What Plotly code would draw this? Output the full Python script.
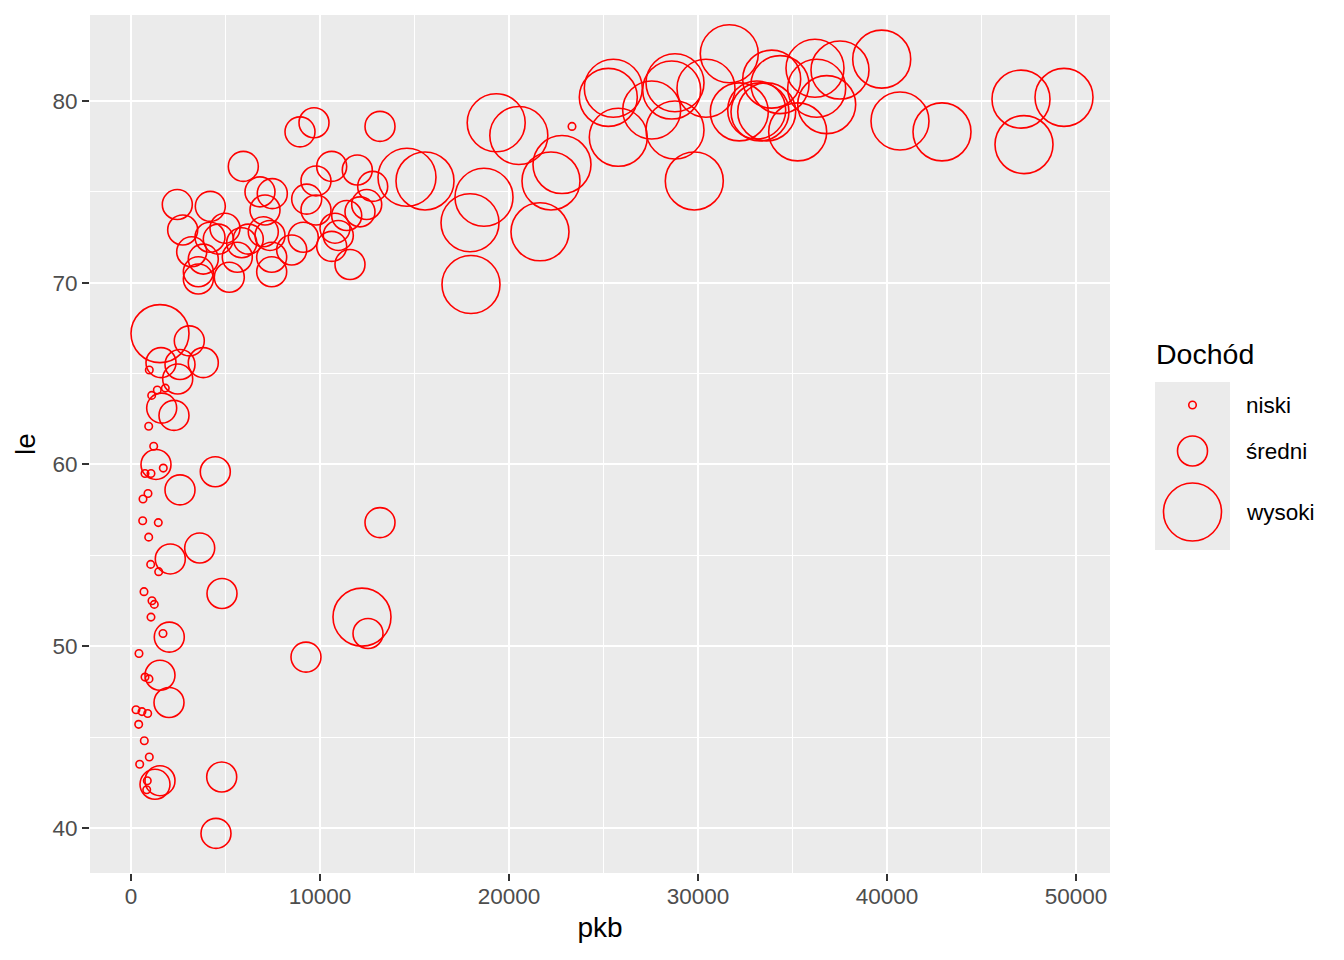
import plotly.graph_objects as go

# ---------------- data ----------------
pkb_niski = [968, 1095, 1392, 1815, 937, 1201, 741, 1058, 1709, 899, 635, 619, 1444, 937,
             1042, 1466, 688, 1111, 1233, 1058, 1693, 423, 741, 952, 265, 582, 884, 407,
             704, 968, 460, 862, 831, 23333]
le_niski = [65.2, 63.8, 64.1, 64.2, 62.1, 61.0, 59.5, 59.5, 59.8, 58.4, 58.1, 56.9, 56.8, 56.0,
            54.5, 54.1, 53.0, 52.5, 52.3, 51.6, 50.7, 49.6, 48.3, 48.2, 46.5, 46.4, 46.3, 45.7,
            44.8, 43.9, 43.5, 42.6, 42.1, 78.6]

pkb_sredni = [3085, 1587, 2593, 3825, 2471, 1624, 2275, 1323, 4460, 2593, 3635, 2079, 4815,
              2026, 1534, 2011, 1534, 1270, 4799, 4497, 9259, 13175, 12540, 8942, 9683, 13175,
              2450, 4196, 5942, 2735, 6825, 7476, 7090, 3212, 3563, 3563, 3825, 4180, 4974,
              4619, 5201, 5624, 5857, 6206, 7000, 7354, 7444, 7444, 8503, 9116, 9296, 9788,
              9788, 10619, 11974, 12788, 12471, 12116, 11413, 10794, 10619, 10968, 11587]
le_sredni = [66.8, 65.6, 65.5, 65.6, 64.7, 63.1, 62.7, 60.0, 59.6, 58.6, 55.4, 54.8, 52.9,
             50.5, 48.4, 46.9, 42.6, 42.4, 42.8, 39.7, 49.4, 56.8, 50.7, 78.3, 78.8, 78.6,
             74.3, 74.2, 76.4, 72.9, 75.0, 74.9, 74.0, 71.7, 70.6, 70.2, 71.3, 72.5, 73.0,
             72.4, 70.3, 71.4, 72.2, 72.4, 72.8, 72.6, 71.4, 70.6, 71.8, 72.5, 74.6, 75.6,
             74.0, 76.4, 76.2, 75.3, 74.3, 73.9, 73.7, 73.0, 72.0, 72.6, 71.0]

pkb_wysoki = [1534, 12222, 14603, 15556, 19323, 20519, 17937, 18677, 17989, 21640, 22222,
              22804, 25254, 25519, 25783, 27550, 28783, 28608, 28783, 30423, 31656, 29804,
              32185, 33106, 33280, 33635, 33899, 34339, 35275, 36190, 36280, 36809, 37513,
              39720, 40688, 42910, 47090, 47249, 49365]
le_wysoki = [67.2, 51.6, 75.8, 75.6, 78.8, 78.1, 73.3, 74.7, 69.9, 72.8, 75.6,
             76.5, 80.2, 80.7, 78.0, 79.5, 81.0, 80.6, 78.4, 80.7, 82.6, 75.6,
             79.4, 79.5, 79.4, 79.4, 81.2, 80.9, 78.3, 81.8, 80.7, 79.8, 81.7,
             82.3, 78.9, 78.3, 80.1, 77.6, 80.2]

groups = ["niski", "średni", "wysoki"]
x_ticks = [0, 10000, 20000, 30000, 40000, 50000]
y_ticks = [40, 50, 60, 70, 80]

# ---------------- styling ----------------
OFF = 8  # page body margin
W, H = 1344 - 2 * OFF, 960 - 2 * OFF
ML, MT = 90 - OFF, 15 - OFF
MR = W - ML - 1020
MB = H - MT - 858
PANEL = "#EBEBEB"
RED = "#FF0000"
FONT = "Liberation Sans"
sizes = {"niski": 7.5, "średni": 30, "wysoki": 58}
series = {"niski": (pkb_niski, le_niski),
          "średni": (pkb_sredni, le_sredni),
          "wysoki": (pkb_wysoki, le_wysoki)}

fig = go.Figure()
for g in groups:
    xs, ys = series[g]
    fig.add_trace(go.Scatter(
        x=xs, y=ys, mode="markers", name=g, showlegend=False,
        marker=dict(symbol="circle-open", size=sizes[g], color=RED,
                    line=dict(width=1.6, color=RED)),
        hoverinfo="x+y+name"))

axis_common = dict(
    showgrid=True, gridcolor="white", gridwidth=2.2,
    zeroline=False, showline=False,
    ticks="outside", ticklen=7, tickwidth=1.5, tickcolor="#333333",
    tickfont=dict(family=FONT, size=22.5, color="#4D4D4D"),
)

fig.update_xaxes(
    range=[-2169, 51799], tickvals=x_ticks, ticktext=[str(v) for v in x_ticks],
    minor=dict(tickvals=[5000, 15000, 25000, 35000, 45000], showgrid=True,
               gridcolor="white", gridwidth=1.1, ticks=""),
    ticklabelstandoff=-4,
    title=dict(text="pkb", font=dict(family=FONT, size=28, color="black"), standoff=9),
    **axis_common)
fig.update_yaxes(
    range=[37.52, 84.73], tickvals=y_ticks, ticktext=[str(v) for v in y_ticks],
    minor=dict(tickvals=[45, 55, 65, 75], showgrid=True,
               gridcolor="white", gridwidth=1.1, ticks=""),
    title=dict(text="le", font=dict(family=FONT, size=28, color="black"), standoff=8),
    **axis_common)

def px_x(px):
    return (px - OFF - ML) / (W - ML - MR)

def px_y(py):
    return (H - MB - (py - OFF)) / (H - MT - MB)

shapes = []
annotations = []
# legend key background
shapes.append(dict(type="rect", xref="paper", yref="paper",
                   x0=px_x(1155), x1=px_x(1230), y0=px_y(550), y1=px_y(382),
                   fillcolor=PANEL, line=dict(width=0), layer="below"))
key_y = {"niski": 405, "średni": 451, "wysoki": 512}
for g in groups:
    r = sizes[g] / 2
    cx, cy = 1192.5, key_y[g]
    shapes.append(dict(type="circle", xref="paper", yref="paper",
                       x0=px_x(cx - r), x1=px_x(cx + r),
                       y0=px_y(cy + r), y1=px_y(cy - r),
                       line=dict(color=RED, width=1.6), fillcolor="rgba(0,0,0,0)"))
    annotations.append(dict(text=g, xref="paper", yref="paper",
                            x=px_x(1244), y=px_y(cy), xanchor="left", yanchor="middle",
                            showarrow=False,
                            font=dict(family=FONT, size=22.5, color="black")))
annotations.append(dict(text="Dochód", xref="paper", yref="paper",
                        x=px_x(1154), y=px_y(354), xanchor="left", yanchor="middle",
                        showarrow=False, font=dict(family=FONT, size=28.5, color="black")))

fig.update_layout(
    width=W, height=H,
    margin=dict(l=ML, r=MR, t=MT, b=MB, autoexpand=False),
    paper_bgcolor="white", plot_bgcolor=PANEL,
    font=dict(family=FONT),
    shapes=shapes, annotations=annotations,
    showlegend=False,
)

fig.write_html("out.html")
